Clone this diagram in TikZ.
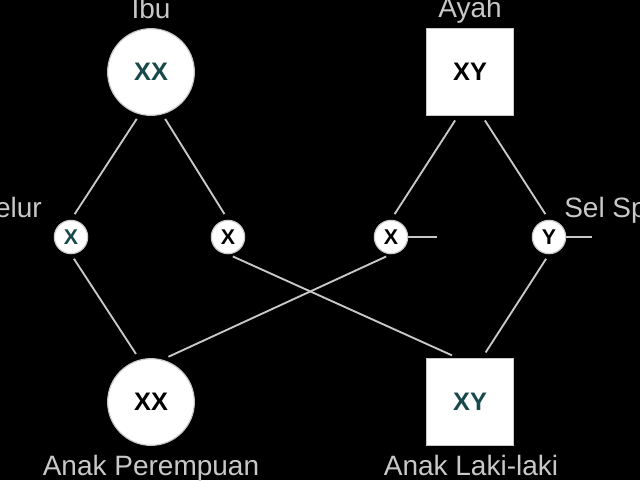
\documentclass[tikz,border=0pt]{standalone}
\usepackage{fontspec}
\setmainfont{Liberation Sans}
\usepackage{xcolor}
\usepackage{tikz}
\usetikzlibrary{positioning}
\definecolor{hijau}{RGB}{24,74,76}
\definecolor{abu}{RGB}{200,200,200}
\tikzset{
  bulat/.style={circle, draw=abu, fill=white, line width=0.9pt, minimum size=65pt, inner sep=0pt, font=\fontsize{19}{20}\selectfont\bfseries},
  kotak/.style={rectangle, draw=abu, fill=white, line width=0.9pt, minimum size=65pt, inner sep=0pt, font=\fontsize{19}{20}\selectfont\bfseries},
  sel/.style={circle, draw=abu, fill=white, line width=0.9pt, minimum size=25pt, inner sep=0pt, font=\fontsize{16}{17}\selectfont\bfseries},
  garis/.style={color=abu, line width=1.4pt, shorten <=4pt, shorten >=5pt},
  teks/.style={text=abu, inner sep=0.75pt, font=\fontsize{21}{24}\selectfont}
}

\begin{document}
\begin{tikzpicture}[x=0.75pt,y=0.75pt,yscale=-1,xscale=1]
%set diagram to 640 x 480, black background
\fill [black] (0,0) rectangle (640,480);
\useasboundingbox (0,0) rectangle (640,480);

%Shape: Circle [id:ibu]
\node [bulat] (ibu) at (151,72) {\color{hijau}XX};
%Shape: Square [id:ayah]
\node [kotak] (ayah) at (470,72) {XY};
%Shape: Circle [id:telur]
\node [sel] (telur1) at (71,237) {\color{hijau}X};
\node [sel] (telur2) at (228,237) {X};
%Shape: Circle [id:sperma]
\node [sel] (sperma1) at (391,237) {X};
\node [sel] (sperma2) at (549,237) {Y};
%Shape: Circle [id:anakp]
\node [bulat] (anakp) at (151,402) {XX};
%Shape: Square [id:anakl]
\node [kotak] (anakl) at (470,402) {\color{hijau}XY};

%Straight Lines [id:ibu-telur]
\draw [garis] (ibu.-105) -- (telur1.north) ;
\draw [garis] (ibu.-75) -- (telur2.north) ;
%Straight Lines [id:ayah-sperma]
\draw [garis] ([xshift=-9pt]ayah.south) -- (sperma1.north) ;
\draw [garis] ([xshift=9pt]ayah.south) -- (sperma2.north) ;
%Straight Lines [id:sel-anak]
\draw [garis] (telur1.south) -- (anakp.105) ;
\draw [garis] (sperma1.south) -- (anakp.75) ;
\draw [garis] (telur2.south) -- ([xshift=-9pt]anakl.north) ;
\draw [garis] (sperma2.south) -- ([xshift=9pt]anakl.north) ;
%Straight Lines [id:ekor sperma]
\coordinate (ekor1) at (437,237);
\coordinate (ekor2) at (592,237);
\draw [color=abu, line width=1.4pt] (sperma1.east) -- (ekor1) ;
\draw [color=abu, line width=1.4pt] (sperma2.east) -- (ekor2) ;

% Text Node
\node [teks, anchor=base] (tibu) at (151,18) {Ibu};
% Text Node
\node [teks, anchor=base] (tayah) at (470,17) {Ayah};
% Text Node
\node [teks, anchor=base east] (ttelur) at (43,217) {Sel Telur};
% Text Node
\node [teks, anchor=base west] (tsperma) at (563,217) {Sel Sperma};
% Text Node
\node [teks, anchor=base] (tanakp) at (151,475) {Anak Perempuan};
% Text Node
\node [teks, anchor=base] (tanakl) at (471,475) {Anak Laki-laki};

\end{tikzpicture}
\end{document}
